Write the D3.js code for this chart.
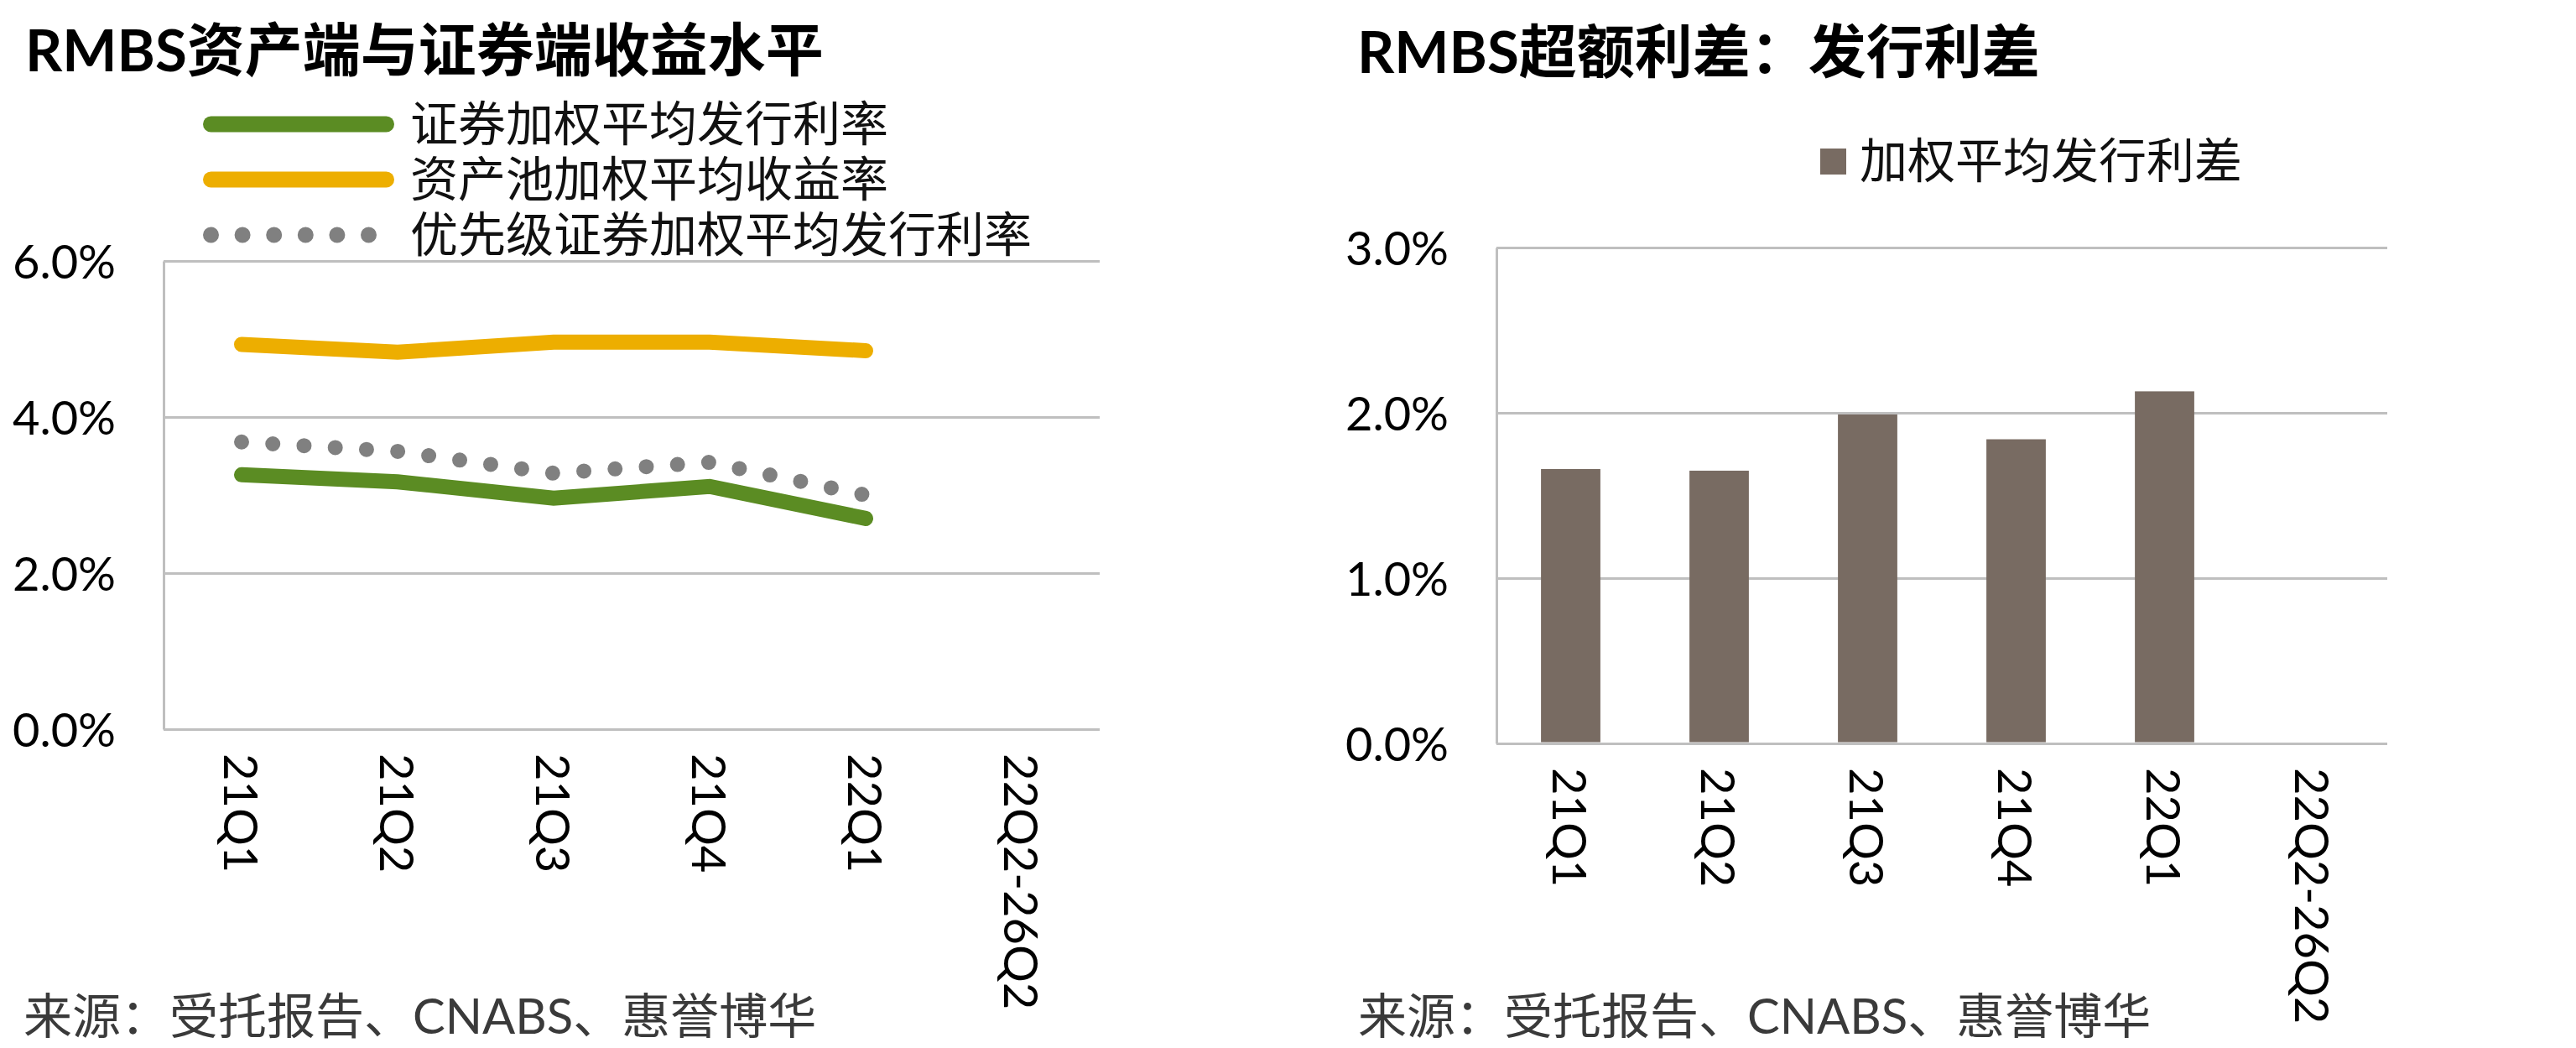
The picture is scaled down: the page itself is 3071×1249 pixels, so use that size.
<!DOCTYPE html>
<html>
<head>
<meta charset="utf-8">
<script src="https://cdn.jsdelivr.net/npm/d3@7"></script>
<style>
  body { margin: 0; background: #fff; }
  svg { display: block; font-family: Lato, "Noto Sans CJK SC", sans-serif; }
</style>
</head>
<body>
<svg id="chart" width="3071" height="1249"></svg>
<script>
// data
const quarters = ["21Q1", "21Q2", "21Q3", "21Q4", "22Q1", "22Q2-26Q2"];
const securityRate = [3.26, 3.17, 2.96, 3.11, 2.70];
const poolYield = [4.93, 4.83, 4.96, 4.96, 4.85];
const seniorRate = [3.68, 3.56, 3.28, 3.42, 3.00];
const lineNames = ["证券加权平均发行利率", "资产池加权平均收益率", "优先级证券加权平均发行利率"];
const lineTicks = [0, 2, 4, 6];

const spread = [1.66, 1.65, 1.99, 1.84, 2.13];
const barName = "加权平均发行利差";
const barTicks = [0, 1, 2, 3];

const source = "来源：受托报告、CNABS、惠誉博华";

const green = "#5b8c23", gold = "#edae00", dotGray = "#808080", barColor = "#786b62", gridColor = "#bfbfbf";

const svg = d3.select("#chart");
const pct = d => d.toFixed(1) + "%";

// y axis + gridlines
function drawYAxis(g, y, ticks, w) {
    const ax = g.append("g")
        .call(d3.axisLeft(y).tickValues(ticks).tickFormat(pct).tickSize(-w).tickSizeOuter(0).tickPadding(57));
    ax.selectAll(".tick line").attr("stroke", gridColor).attr("stroke-width", 3);
    ax.select(".domain").attr("stroke", gridColor).attr("stroke-width", 3);
    ax.selectAll("text").attr("font-size", 56).attr("fill", "#000")
        .attr("font-family", "Lato, 'Noto Sans CJK SC'").attr("dy", "0.36em");
}

// category labels, rotated
function drawXAxis(g, x, y0) {
    const ax = g.append("g")
        .attr("transform", `translate(0,${y0})`)
        .call(d3.axisBottom(x).tickSize(0));
    ax.select(".domain").remove();
    ax.selectAll("text")
        .attr("transform", "rotate(90)")
        .attr("x", 29).attr("y", 0).attr("dy", null)
        .attr("dominant-baseline", "central")
        .attr("text-anchor", "start")
        .attr("font-size", 56).attr("fill", "#000")
        .attr("font-family", "Lato, 'Noto Sans CJK SC'");
}

// ---------- left chart ----------
const left = svg.append("g");
const x1 = d3.scaleBand().domain(quarters).range([195, 1311]);
const y1 = d3.scaleLinear().domain([0, 6]).range([869, 311]);

left.append("text")
    .attr("x", 30).attr("y", 85)
    .attr("font-size", 69).attr("font-weight", "bold")
    .text("RMBS资产端与证券端收益水平");

drawYAxis(left.append("g").attr("transform", "translate(195,0)"), y1, lineTicks, 1311 - 195);

const line = d3.line()
    .x((d, i) => x1(quarters[i]) + x1.bandwidth() / 2)
    .y(d => y1(d));

left.append("path").datum(poolYield)
    .attr("d", line).attr("fill", "none")
    .attr("stroke", gold).attr("stroke-width", 18).attr("stroke-linecap", "round");
left.append("path").datum(seniorRate)
    .attr("d", line).attr("fill", "none")
    .attr("stroke", dotGray).attr("stroke-width", 18).attr("stroke-linecap", "round")
    .attr("stroke-dasharray", "0,37.3");
left.append("path").datum(securityRate)
    .attr("d", line).attr("fill", "none")
    .attr("stroke", green).attr("stroke-width", 18).attr("stroke-linecap", "round");

drawXAxis(left, x1, 869);

// legend
const legendStyles = [
    { color: green, dash: null },
    { color: gold, dash: null },
    { color: dotGray, dash: "0,37.6" }
];
const leg = left.selectAll(".leg").data(lineNames).join("g")
    .attr("transform", (d, i) => `translate(0,${148 + i * 66})`);
leg.append("line")
    .attr("x1", 251.5).attr("x2", (d, i) => i === 2 ? 440 : 460.5)
    .attr("stroke", (d, i) => legendStyles[i].color)
    .attr("stroke-width", 19).attr("stroke-linecap", "round")
    .attr("stroke-dasharray", (d, i) => legendStyles[i].dash);
leg.append("text")
    .attr("x", 489).attr("y", -2)
    .attr("dominant-baseline", "central")
    .attr("font-size", 57).attr("fill", "#111")
    .text(d => d);

left.append("text")
    .attr("x", 28).attr("y", 1209)
    .attr("dominant-baseline", "central")
    .attr("font-size", 58).attr("fill", "#3a3a3a")
    .text(source);

// ---------- right chart ----------
const right = svg.append("g");
const x2 = d3.scaleBand().domain(quarters).range([1784, 2846]);
const y2 = d3.scaleLinear().domain([0, 3]).range([886, 295]);

right.append("text")
    .attr("x", 1618).attr("y", 87)
    .attr("font-size", 69).attr("font-weight", "bold")
    .text("RMBS超额利差：发行利差");

drawYAxis(right.append("g").attr("transform", "translate(1784,0)"), y2, barTicks, 2846 - 1784);

const barW = x2.bandwidth() * 0.4;
right.selectAll(".bar").data(spread).join("rect")
    .attr("x", (d, i) => x2(quarters[i]) + (x2.bandwidth() - barW) / 2)
    .attr("width", barW)
    .attr("y", d => y2(d))
    .attr("height", d => y2(0) - y2(d) - 1.5)
    .attr("fill", barColor);

drawXAxis(right, x2, 886);

right.append("rect")
    .attr("x", 2170).attr("y", 177)
    .attr("width", 31).attr("height", 31)
    .attr("fill", barColor);
right.append("text")
    .attr("x", 2217).attr("y", 190)
    .attr("dominant-baseline", "central")
    .attr("font-size", 57).attr("fill", "#111")
    .text(barName);

right.append("text")
    .attr("x", 1619).attr("y", 1209)
    .attr("dominant-baseline", "central")
    .attr("font-size", 58).attr("fill", "#3a3a3a")
    .text(source);
</script>
</body>
</html>
